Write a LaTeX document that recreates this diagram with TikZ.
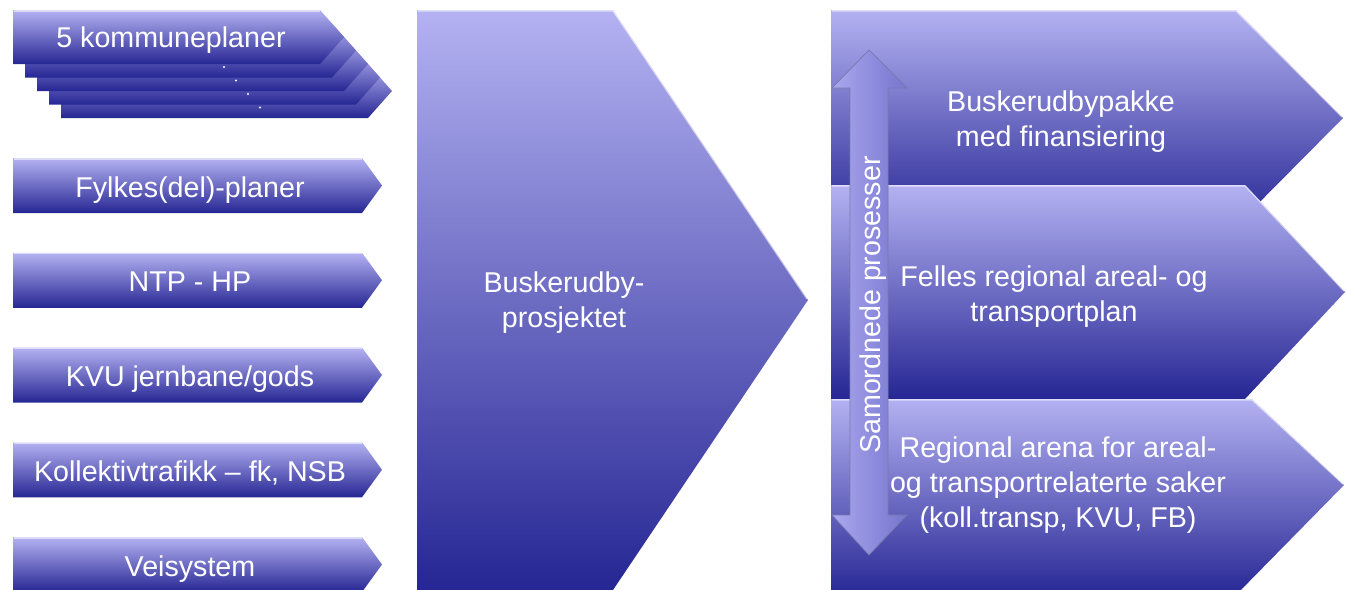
\documentclass[tikz,border=0pt]{standalone}
\usepackage{fontspec}
\setmainfont{Liberation Sans}
\definecolor{plateTop}{RGB}{180,178,242}
\definecolor{plateMid}{RGB}{120,118,206}
\definecolor{plateBot}{RGB}{38,38,148}
\definecolor{chevMid}{RGB}{156,154,226}
\definecolor{shaftL}{RGB}{170,168,238}
\definecolor{shaftR}{RGB}{118,116,206}
\definecolor{shaftEdge}{RGB}{120,120,172}
\tikzset{
  plate/.style={top color=plateTop, middle color=plateMid, bottom color=plateBot},
  bevel/.style={draw=white, draw opacity=0.55, line width=0.8pt},
  lbl/.style={text=white, font=\fontsize{16.3}{19.9}\selectfont, align=center, inner sep=0pt}
}
\begin{document}
\begin{tikzpicture}[x=0.02cm, y=-0.02cm]
\useasboundingbox (0,0) rectangle (1346,589);
\clip (0,0) rectangle (1346,589);

\foreach \i in {4,3,2,1,0} {
  \shade[plate] ({13+12*\i}, {10+13.5*\i}) -- ++(307,0) -- ++(24,27) -- ++(-24,27) -- ++(-307,0) -- cycle;
  \draw[bevel] ({14+12*\i}, {10.8+13.5*\i}) -- ++(306,0);
}
\foreach \i in {1,...,4}
  \fill[white] ({212+12*\i}, {53.5+13.5*\i}) circle (1.2);
\node[lbl, anchor=base] (kommune) at (171,47) {5 kommuneplaner};

\foreach [count=\k from 0] \name/\txt in {fylke/{Fylkes(del)-planer}, ntp/{NTP - HP}, kvu/{KVU jernbane/gods}, koll/{Kollektivtrafikk – fk, NSB}, vei/{Veisystem}} {
  \shade[plate] (13, {158+94.75*\k}) -- ++(349,0) -- ++(20,27.5) -- ++(-20,27.5) -- ++(-349,0) -- cycle;
  \draw[bevel] (14, {158.8+94.75*\k}) -- ++(348,0);
  \node[lbl, anchor=base] (\name) at (190, {197+94.75*\k}) {\txt};
}

\shade[top color=plateTop, middle color=chevMid, bottom color=plateBot] (417,10) -- (613,10) -- (808,300) -- (613,590) -- (417,590) -- cycle;
\draw[bevel] (418,10.8) -- (613,10.8) -- (807,299);
\node[lbl] (prosjekt) at (564,303) {Buskerudby-\\prosjektet};

\shade[plate] (831,10) -- (1236,10) -- (1343,118) -- (1236,226) -- (831,226) -- cycle;
\draw[bevel] (832,10.8) -- (1236,10.8) -- (1342,117);
\shade[plate] (831,185) -- (1245,185) -- (1345,292) -- (1245,399) -- (831,399) -- cycle;
\draw[bevel] (832,185.8) -- (1245,185.8) -- (1344,291);
\shade[plate] (831,399) -- (1252,399) -- (1344,485) -- (1234,597) -- (831,597) -- cycle;
\draw[bevel] (832,399.8) -- (1252,399.8) -- (1343,484);

\shadedraw[left color=shaftL, right color=shaftR, draw=shaftEdge, line width=0.4pt] (869,50) -- (907,88) -- (888,88) -- (888,515) -- (907,515) -- (869,555) -- (832,515) -- (850,515) -- (850,88) -- (832,88) -- cycle;
\node[lbl, rotate=90] (samordnet) at (873,305) {Samordnede prosesser};

\node[lbl] (pakke) at (1061,122) {Buskerudbypakke\\med finansiering};
\node[lbl] (felles) at (1054,297) {Felles regional areal- og\\transportplan};
\node[lbl] (arena) at (1058,485) {Regional arena for areal-\\og transportrelaterte saker\\(koll.transp, KVU, FB)};
\end{tikzpicture}
\end{document}
